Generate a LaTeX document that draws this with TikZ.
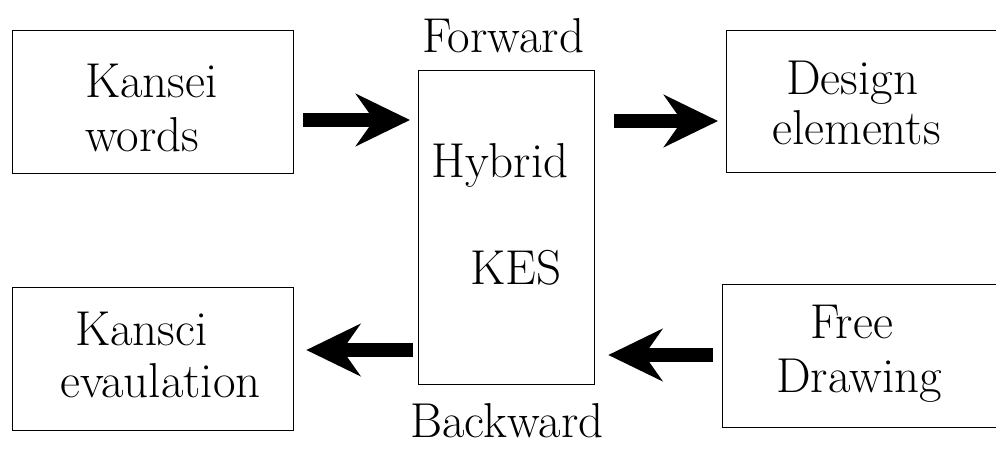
\documentclass[tikz,border=0pt]{standalone}
\usetikzlibrary{arrows.meta}

\begin{document}
\begin{tikzpicture}[x=1pt,y=1pt,
  box/.style={draw, line width=1.3pt, inner sep=0pt, anchor=south west},
  lbl/.style={inner sep=0pt, anchor=base west, font=\rmfamily\fontsize{49}{54}\selectfont},
  fat/.style={line width=14pt,
    -{Stealth[length=54pt, width=52pt, inset=18pt]}}
]
\useasboundingbox (0,0) rectangle (996,448);
\clip (0,0) rectangle (996,448);
\fill[white] (0,0) rectangle (996,448);

% boxes
\node[box, minimum width=281pt, minimum height=143pt] (kw)  at (12,274) {};
\node[box, minimum width=176pt, minimum height=314pt] (hyb) at (418,63) {};
\node[box, minimum width=290pt, minimum height=142pt] (de)  at (726,275) {};
\node[box, minimum width=281pt, minimum height=143pt] (ke)  at (12,17) {};
\node[box, minimum width=290pt, minimum height=143pt] (fd)  at (722,20) {};

% labels
\node[lbl] (kw1) at (85,350) {Kansei};
\node[lbl] (kw2) at (85,296) {words};
\node[lbl] (hy1) at (431,270) {Hybrid};
\node[lbl] (hy2) at (470,164) {KES};
\node[lbl] (fwd) at (422,395) {Forward};
\node[lbl] (bwd) at (410,11) {Backward};
\node[lbl] (de1) at (786,353) {Design};
\node[lbl] (de2) at (772,303) {elements};
\node[lbl] (ke1) at (75,103) {Kansci};
\node[lbl] (ke2) at (60,51) {evaulation};
\node[lbl] (fd1) at (810,110) {Free};
\node[lbl] (fd2) at (776,56) {Drawing};

% arrow heights
\coordinate (r1) at (0,328);
\coordinate (r2) at (0,327);
\coordinate (r3) at (0,98);
\coordinate (r4) at (0,93);

% connectors
\draw[fat, shorten <=9pt,  shorten >=8pt]  (kw.east |- r1)  -- (hyb.west |- r1);
\draw[fat, shorten <=19pt, shorten >=8pt]  (hyb.east |- r2) -- (de.west |- r2);
\draw[fat, shorten <=5pt,  shorten >=12pt] (hyb.west |- r3) -- (ke.east |- r3);
\draw[fat, shorten <=9pt,  shorten >=13pt] (fd.west |- r4)  -- (hyb.east |- r4);
\end{tikzpicture}
\end{document}
